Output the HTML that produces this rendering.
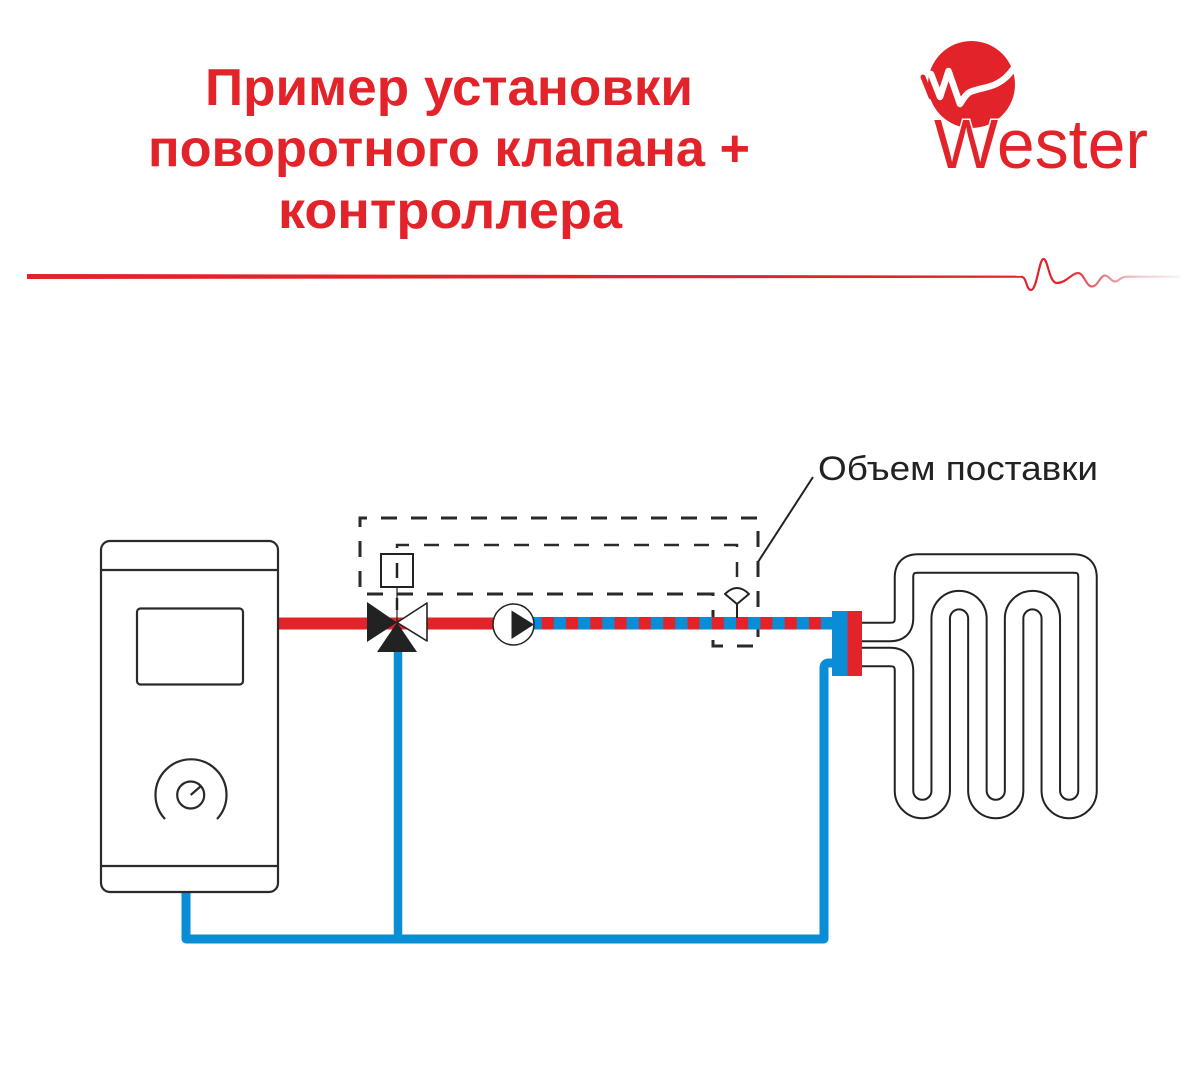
<!DOCTYPE html>
<html>
<head>
<meta charset="utf-8">
<style>
  html, body { margin:0; padding:0; background:#ffffff; }
  body { width:1200px; height:1080px; overflow:hidden; }
  svg { display:block; }
</style>
</head>
<body>
<svg width="1200" height="1080" viewBox="0 0 1200 1080" xmlns="http://www.w3.org/2000/svg">
  <defs>
    <linearGradient id="hb" gradientUnits="userSpaceOnUse" x1="1020" y1="0" x2="1180" y2="0">
      <stop offset="0" stop-color="#e3232a"/>
      <stop offset="0.28" stop-color="#e3232a"/>
      <stop offset="0.55" stop-color="#e58a90"/>
      <stop offset="0.75" stop-color="#f1c9cb"/>
      <stop offset="1" stop-color="#fbf1f1"/>
    </linearGradient>
  </defs>

  <rect width="1200" height="1080" fill="#ffffff"/>

  <!-- Title -->
  <g font-family="'Liberation Sans', 'Noto Sans CJK SC', sans-serif" font-weight="bold" font-size="52" fill="#e3232a">
    <text x="205" y="105" textLength="488" lengthAdjust="spacingAndGlyphs">Пример установки</text>
    <text x="148" y="166" textLength="602" lengthAdjust="spacingAndGlyphs">поворотного клапана +</text>
    <text x="278" y="228" textLength="344" lengthAdjust="spacingAndGlyphs">контроллера</text>
  </g>

  <!-- Logo -->
  <circle cx="971.5" cy="84.5" r="43.5" fill="#e3232a"/>
  <polyline points="923,77 931,97" fill="none" stroke="#e3232a" stroke-width="5" stroke-linecap="round"/>
  <path d="M931 74 L940 97 L948.5 71 L960 104 C 964 98, 966 94, 970 92 C 980 88, 988 88, 996 84 C 1004 80, 1008 76, 1014 68" fill="none" stroke="#ffffff" stroke-width="6.5" stroke-linejoin="round" stroke-linecap="round"/>
  <text x="934" y="168" font-family="'Liberation Sans', sans-serif" font-size="70" fill="#e3232a" stroke="#ffffff" stroke-width="3" paint-order="stroke" textLength="214" lengthAdjust="spacingAndGlyphs">Wester</text>

  <!-- Divider line -->
  <polygon points="27,274 1023,275.6 1023,277.8 27,279" fill="#e3232a"/>
  <path d="M1021 276.7 C 1027 276.7, 1026 290, 1031 290 C 1037 290, 1039 259, 1043.5 259 C 1048 259, 1049 283, 1057 283 C 1066 283, 1072 273, 1078 273 C 1084 273, 1086 286.5, 1092 286.5 C 1098 286.5, 1100 275.5, 1105 275.5 C 1109 275.5, 1111 281.5, 1115 281.5 C 1119 281.5, 1120 276.7, 1127 276.7 L 1180 276.7" fill="none" stroke="url(#hb)" stroke-width="2.2"/>

  <!-- Label -->
  <text x="818" y="480" font-family="'Liberation Sans', sans-serif" font-size="34" fill="#222222" textLength="280" lengthAdjust="spacingAndGlyphs">Объем поставки</text>
  <line x1="758" y1="562" x2="813" y2="477" stroke="#222222" stroke-width="2"/>

  <!-- Dashed boundaries -->
  <path d="M713 594 H360 V518 H758 V646 H713 Z" fill="none" stroke="#2a2a2a" stroke-width="3" stroke-dasharray="16 14"/>
  <path d="M397 578 V545 H737 V588" fill="none" stroke="#2a2a2a" stroke-width="2.5" stroke-dasharray="15 15"/>

  <!-- Blue return pipes -->
  <path d="M834 663 H829 Q824 663 824 668 V939 H186 V891" fill="none" stroke="#0a8dd7" stroke-width="9" stroke-linejoin="round"/>
  <line x1="398" y1="645" x2="398" y2="939" stroke="#0a8dd7" stroke-width="8.5"/>

  <!-- Red supply pipe -->
  <rect x="277" y="617.5" width="220" height="12" fill="#e3232a"/>

  <!-- Striped pipe -->
  <rect x="532" y="617" width="302" height="12.5" fill="#0a8dd7"/>
  <g fill="#e3232a">
    <rect x="541.7" y="617" width="12" height="12.5"/>
    <rect x="566" y="617" width="12" height="12.5"/>
    <rect x="590.3" y="617" width="12" height="12.5"/>
    <rect x="614.6" y="617" width="12" height="12.5"/>
    <rect x="638.9" y="617" width="12" height="12.5"/>
    <rect x="663.2" y="617" width="12" height="12.5"/>
    <rect x="687.5" y="617" width="12" height="12.5"/>
    <rect x="711.8" y="617" width="12" height="12.5"/>
    <rect x="736.1" y="617" width="12" height="12.5"/>
    <rect x="760.4" y="617" width="12" height="12.5"/>
    <rect x="784.7" y="617" width="12" height="12.5"/>
    <rect x="809" y="617" width="12" height="12.5"/>
  </g>

  <!-- Manifold -->
  <rect x="832" y="611" width="15.5" height="65" fill="#0a8dd7"/>
  <rect x="847.5" y="611" width="14.5" height="65" fill="#e3232a"/>

  <!-- Sensor -->
  <line x1="737" y1="602" x2="737" y2="618" stroke="#222222" stroke-width="2"/>
  <path d="M725 594 Q737 582 749 594 L737 604 Z" fill="#ffffff" stroke="#222222" stroke-width="2" stroke-linejoin="round"/>

  <!-- Valve -->
  <line x1="397" y1="587" x2="397" y2="622" stroke="#222222" stroke-width="1.2"/>
  <line x1="397" y1="598" x2="397" y2="610" stroke="#222222" stroke-width="2.5"/>
  <rect x="381" y="554" width="32" height="33" fill="#ffffff" stroke="#222222" stroke-width="2"/>
  <line x1="397" y1="563" x2="397" y2="578" stroke="#222222" stroke-width="2.5"/>
  <polygon points="367,602 367,642 397,622.5" fill="#222222"/>
  <polygon points="397,622.5 427,603 427,641" fill="#ffffff" stroke="#222222" stroke-width="1.6" stroke-linejoin="round"/>
  <polygon points="397,622.5 377,652 417,652" fill="#222222"/>

  <!-- Pump -->
  <circle cx="513.5" cy="624.5" r="20.5" fill="#ffffff" stroke="#222222" stroke-width="1.5"/>
  <polygon points="511.5,610.5 534,624.5 511.5,639" fill="#222222"/>

  <!-- Boiler -->
  <g fill="none" stroke="#2a2a2a" stroke-width="2.2">
    <rect x="101" y="541" width="177" height="351" rx="9"/>
    <line x1="101" y1="570" x2="278" y2="570"/>
    <line x1="101" y1="866" x2="278" y2="866"/>
    <rect x="137" y="608.5" width="106" height="76" rx="3.5"/>
    <path d="M165 819 A35.5 35.5 0 1 1 217 819"/>
    <circle cx="190.7" cy="795" r="13.5"/>
    <line x1="190.7" y1="795" x2="201" y2="786"/>
  </g>

  <!-- Floor heating coil -->
  <path id="coil" d="M862 632 H890 Q904 632 904 618 V577.5 Q904 563.5 918 563.5 H1073.5 Q1087.5 563.5 1087.5 577.5 V790.7 A18.35 18.35 0 0 1 1050.8 790.7 V618.5 A18.35 18.35 0 0 0 1014.1 618.5 V790.7 A18.35 18.35 0 0 1 977.4 790.7 V618.5 A18.35 18.35 0 0 0 940.7 618.5 V790.7 A18.35 18.35 0 0 1 904 790.7 V671 Q904 657 890 657 H862" fill="none" stroke="#222222" stroke-width="20.5"/>
  <path d="M862 632 H890 Q904 632 904 618 V577.5 Q904 563.5 918 563.5 H1073.5 Q1087.5 563.5 1087.5 577.5 V790.7 A18.35 18.35 0 0 1 1050.8 790.7 V618.5 A18.35 18.35 0 0 0 1014.1 618.5 V790.7 A18.35 18.35 0 0 1 977.4 790.7 V618.5 A18.35 18.35 0 0 0 940.7 618.5 V790.7 A18.35 18.35 0 0 1 904 790.7 V671 Q904 657 890 657 H862" fill="none" stroke="#ffffff" stroke-width="16.5"/>
  <!-- re-draw manifold edge over coil ends -->
  <rect x="847.5" y="611" width="14.5" height="65" fill="#e3232a"/>
</svg>
</body>
</html>
